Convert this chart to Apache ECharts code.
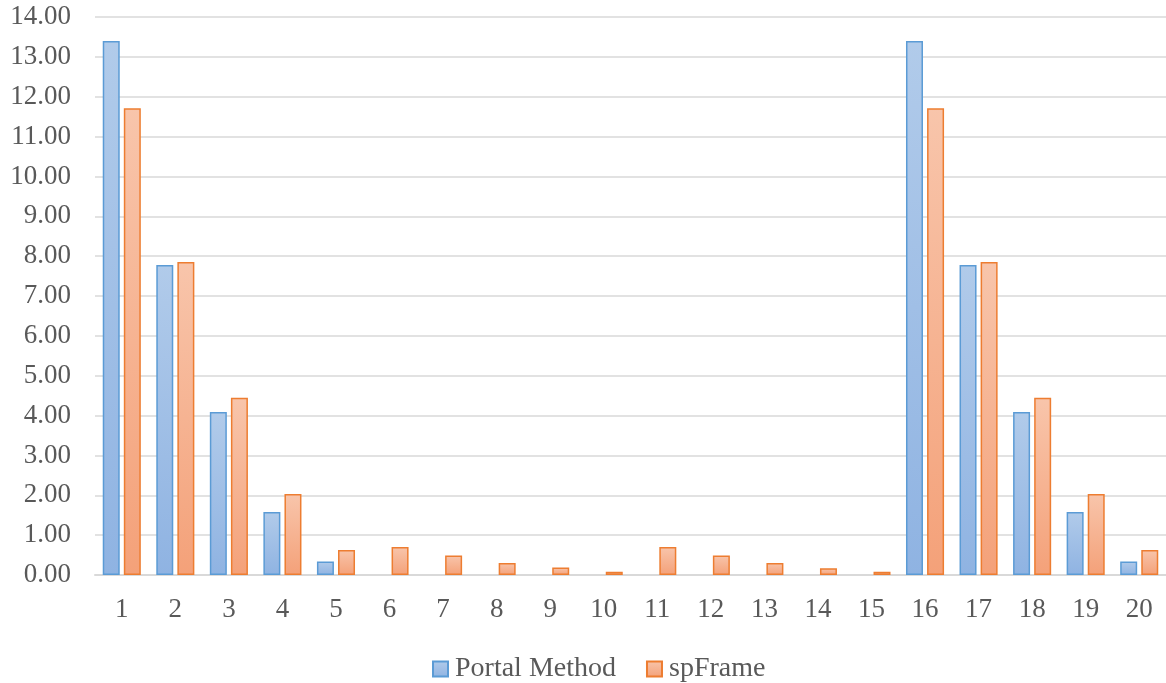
<!DOCTYPE html>
<html>
<head>
<meta charset="utf-8">
<style>html,body{margin:0;padding:0;background:#fff;}#c{width:1166px;height:683px;}</style>
<script src="https://cdn.jsdelivr.net/npm/echarts@6/dist/echarts.min.js"></script>
</head>
<body>
<div id="c"></div>
<script>
const categories = ['1','2','3','4','5','6','7','8','9','10','11','12','13','14','15','16','17','18','19','20'];
const portalMethod = [13.40, 7.78, 4.09, 1.58, 0.34, 0, 0, 0, 0, 0, 0, 0, 0, 0, 0, 13.40, 7.78, 4.09, 1.58, 0.34];
const spFrame = [11.71, 7.85, 4.45, 2.03, 0.63, 0.70, 0.49, 0.30, 0.19, 0.08, 0.70, 0.49, 0.30, 0.17, 0.08, 11.71, 7.85, 4.45, 2.03, 0.63];
const seriesNames = ['Portal Method', 'spFrame'];

const font = '"Liberation Serif", "Times New Roman", serif';
const chart = echarts.init(document.getElementById('c'));
function grad(top, bottom) {
  return new echarts.graphic.LinearGradient(0, 0, 0, 1, [
    {offset: 0, color: top}, {offset: 1, color: bottom}
  ]);
}
const hideZero = arr => arr.map(v => v === 0 ? '-' : v);
chart.setOption({
  animation: false,
  backgroundColor: '#ffffff',
  textStyle: {fontFamily: font},
  grid: {left: 95, top: 17, width: 1074, height: 558, containLabel: false},
  legend: {
    top: 650, left: 427,
    icon: 'rect',
    itemWidth: 15, itemHeight: 15, itemGap: 30,
    textStyle: {fontFamily: font, fontSize: 28, color: '#595959', padding: [0, 0, 0, 2]},
    data: seriesNames
  },
  xAxis: {
    type: 'category', data: categories,
    axisLine: {lineStyle: {color: '#d9d9d9', width: 2}},
    axisTick: {show: false},
    axisLabel: {fontFamily: font, fontSize: 27, color: '#595959', margin: 21}
  },
  yAxis: {
    type: 'value', min: 0, max: 14, interval: 1,
    axisLine: {show: false}, axisTick: {show: false},
    splitLine: {lineStyle: {color: '#d9d9d9', width: 1.5}},
    axisLabel: {fontFamily: font, fontSize: 27, color: '#595959', margin: 24,
      formatter: v => v.toFixed(2)}
  },
  series: [
    {
      name: seriesNames[0], type: 'bar', data: hideZero(portalMethod),
      barWidth: 17, barGap: '24%',
      itemStyle: {color: grad('#b1cbea', '#8fb3e2'), borderColor: '#5b9bd5', borderWidth: 1.5}
    },
    {
      name: seriesNames[1], type: 'bar', data: hideZero(spFrame),
      barWidth: 17,
      itemStyle: {color: grad('#f8c5ab', '#f4a179'), borderColor: '#ed7d31', borderWidth: 1.5}
    }
  ]
});
</script>
</body>
</html>
